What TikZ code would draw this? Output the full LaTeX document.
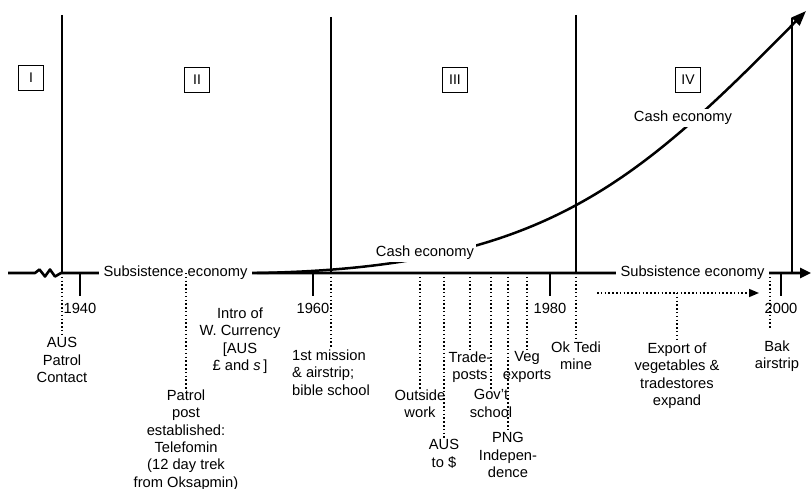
\documentclass[tikz,border=0pt]{standalone}
\usepackage{fontspec}
\setmainfont{Liberation Sans}
\usetikzlibrary{positioning,arrows.meta}

\begin{document}
\begin{tikzpicture}[
    x=1pt, y=-1pt,
    font=\fontsize{14.7}{17.4}\selectfont,
    axis/.style={line width=2.6pt, line join=round},
    period/.style={line width=2pt},
    era/.style={draw, line width=1.8pt, minimum size=25pt, inner sep=0pt, font=\fontsize{14}{16}\selectfont},
    tick/.style={line width=1.3pt},
    event/.style={line width=1.6pt, dash pattern=on 1.5pt off 2.3pt},
    evlabel/.style={align=center, inner sep=1pt},
    econ/.style={fill=white, inner xsep=5pt, inner ysep=3pt},
    year/.style={inner sep=2pt}
  ]
  \useasboundingbox (0,0) rectangle (812,489);

  %% Time axis (with break at the left end)
  \coordinate (ax0) at (8,273);
  \coordinate (ax1) at (811,273);
  \draw[axis, -{Triangle[length=11pt,width=10pt]}] (ax0) -- (35,273) -- (39.5,269.5) -- (45,276.5) -- (50,269.5) -- (55,276.5) -- (61,273) -- (ax1);

  %% Period boundaries
  \foreach \x/\t [count=\i] in {62/15, 331/17, 576/15, 792/18} {
    \coordinate (top\i) at (\x,\t);
    \coordinate (bot\i) at (\x,273);
    \draw[period] (top\i) -- (bot\i);
  }
  \node[era] (p1) at (31,78) {I};
  \node[era] (p2) at (197,80) {II};
  \node[era] (p3) at (455,80) {III};
  \node[era] (p4) at (688,80) {IV};

  %% Decades
  \foreach \x/\yr in {80/1940, 313/1960, 550/1980, 781/2000} {
    \coordinate (a\yr) at (\x,273);
    \coordinate (t\yr) at (\x,296);
    \draw[tick] (a\yr) -- (t\yr);
    \node[year, below=5pt of t\yr] (y\yr) {\yr};
  }

  %% Cash economy curve
  \coordinate (cashStart) at (257,273);
  \coordinate (cashEnd) at (806,11);
  \draw[line width=2.5pt, -{Triangle[length=15pt,width=11pt]}] (cashStart) .. controls (540,268) and (632,188) .. (cashEnd);

  %% Economy labels
  \node[econ] (sub1) at (175.5,273) {Subsistence economy};
  \node[econ] (sub2) at (692.5,273) {Subsistence economy};
  \node[econ, inner sep=2pt] (cash1) at (425,253) {Cash economy};
  \node[econ, inner sep=2pt] (cash2) at (683,118) {Cash economy};

  %% Events
  \coordinate (eAus) at (62,273);
  \node[evlabel, below=63.5pt of eAus] (aus) {AUS\\Patrol\\Contact};
  \draw[event] (eAus) -- (aus);

  \coordinate (ePatrol) at (186,273);
  \node[evlabel, below=115.5pt of ePatrol] (patrol) {Patrol\\post\\established:\\Telefomin\\(12 day trek\\from Oksapmin)};
  \draw[event] (ePatrol) -- (patrol);

  \node[evlabel, anchor=north] (intro) at (240,306.5) {Intro of\\W. Currency\\{[}AUS\\£ and \textit{s}\,]};

  \coordinate (eMission) at (331,273);
  \node[evlabel, align=left, below=75.5pt of eMission] (mission) {1st mission\\\& airstrip;\\bible school};
  \draw[event] (eMission) -- (mission);

  \coordinate (eOutside) at (420,273);
  \node[evlabel, below=115.5pt of eOutside] (outside) {Outside\\work};
  \draw[event] (eOutside) -- (outside);

  \coordinate (eDollar) at (444,273);
  \node[evlabel, below=165.5pt of eDollar] (dollar) {AUS\\to \$};
  \draw[event] (eDollar) -- (dollar);

  \coordinate (eTrade) at (470,273);
  \node[evlabel, below=77.5pt of eTrade] (trade) {Trade-\\posts};
  \draw[event] (eTrade) -- (trade);

  \coordinate (eSchool) at (491,273);
  \node[evlabel, below=115.5pt of eSchool] (school) {Gov't\\school};
  \draw[event] (eSchool) -- (school);

  \coordinate (ePng) at (508,273);
  \node[evlabel, below=158.5pt of ePng] (png) {PNG\\Indepen-\\dence};
  \draw[event] (ePng) -- (png);

  \coordinate (eVeg) at (527,273);
  \node[evlabel, below=77.5pt of eVeg] (veg) {Veg\\exports};
  \draw[event] (eVeg) -- (veg);

  \coordinate (eOkTedi) at (576,273);
  \node[evlabel, below=67.5pt of eOkTedi] (oktedi) {Ok Tedi\\mine};
  \draw[event] (eOkTedi) -- (oktedi);

  \coordinate (expStart) at (597,293);
  \coordinate (expEnd) at (759,293);
  \coordinate (expMid) at (677,293);
  \draw[event, -{Triangle[length=10pt,width=8pt]}] (expStart) -- (expEnd);
  \node[evlabel, below=48.5pt of expMid] (export) {Export of\\vegetables \&\\tradestores\\expand};
  \draw[event] (expMid) -- (export);

  \coordinate (eBak) at (770,273);
  \coordinate (eBakEnd) at (770,328);
  \node[evlabel, anchor=north] (bak) at (777,339.5) {Bak\\airstrip};
  \draw[event] (eBak) -- (eBakEnd);

\end{tikzpicture}
\end{document}
